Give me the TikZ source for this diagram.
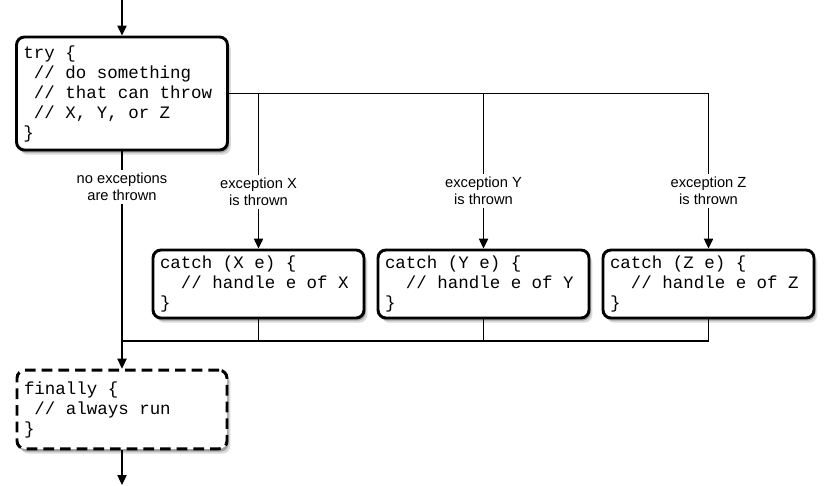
\documentclass[tikz,border=0pt]{standalone}
\usepackage{fontspec}
\setmainfont{Liberation Sans}
\newfontfamily\codefont{Liberation Mono}
\usetikzlibrary{arrows.meta,shadows}
\newcommand\ind{\hphantom{x}}
\begin{document}
\begin{tikzpicture}[x=0.75pt,y=-0.75pt,
  box/.style={draw=black, line width=2.2pt, rounded corners=6pt, fill=white,
    drop shadow={shadow xshift=2.5pt, shadow yshift=-3.5pt, fill=black, opacity=0.15},
    drop shadow={shadow xshift=1.2pt, shadow yshift=-2pt, fill=black, opacity=0.25},
    inner xsep=5.25pt, inner ysep=0pt, align=left, anchor=center,
    font=\codefont\fontsize{13.1}{15}\selectfont},
  trybox/.style={box, minimum width=158.25pt, minimum height=84.75pt, text width=147.75pt},
  catchbox/.style={box, minimum width=158.25pt, minimum height=51pt, text width=147.75pt},
  finbox/.style={box, dash pattern=on 8pt off 4.5pt, minimum width=157.5pt, minimum height=59pt, text width=147pt},
  conn/.style={draw=black, line width=0.9pt},
  arr/.style={conn, -{Triangle[length=7.5pt,width=7pt]}},
  lab/.style={fill=white, inner sep=2.5pt, align=center, font=\fontsize{11}{12.75}\selectfont}
]
\useasboundingbox[fill=white] (0,0) rectangle (830,485);

\node[trybox] (try) at (122,93.5) {try\ind\{\\\ind//\ind do\ind something\\\ind//\ind that\ind can\ind throw\\\ind//\ind X,\ind Y,\ind or\ind Z\\\}};
\node[catchbox] (cx) at (258.5,284) {catch\ind(X\ind e)\ind\{\\\ind\ind//\ind handle\ind e\ind of\ind X\\\}};
\node[catchbox] (cy) at (483.5,284) {catch\ind(Y\ind e)\ind\{\\\ind\ind//\ind handle\ind e\ind of\ind Y\\\}};
\node[catchbox] (cz) at (708.5,284) {catch\ind(Z\ind e)\ind\{\\\ind\ind//\ind handle\ind e\ind of\ind Z\\\}};
\node[finbox] (fin) at (122,409.5) {finally\ind\{\\\ind//\ind always\ind run\\\}};

\coordinate (start) at (122,0);
\coordinate (stop) at (122,485);
\coordinate (bus) at (122,341);

% entry / exit
\draw[arr] (start) -- (try.north);
\draw[arr] (fin.south) -- (stop);

% exceptions
\draw[conn] (try.east) -- (try.east -| cz.north);
\draw[arr] (try.east -| cx.north) -- (cx.north);
\draw[arr] (try.east -| cy.north) -- (cy.north);
\draw[arr] (try.east -| cz.north) -- (cz.north);

% join to finally
\draw[conn] (cx.south) -- (cx.south |- bus);
\draw[conn] (cy.south) -- (cy.south |- bus);
\draw[conn] (cz.south) -- (cz.south |- bus) -- (bus);
\draw[arr] (try.south) -- (fin.north);

% labels
\node[lab] (lno) at (122,187) {no exceptions\\are thrown};
\node[lab] (lx) at (258.5,192) {exception X\\is thrown};
\node[lab] (ly) at (483.5,191) {exception Y\\is thrown};
\node[lab] (lz) at (708.5,191) {exception Z\\is thrown};
\end{tikzpicture}
\end{document}
